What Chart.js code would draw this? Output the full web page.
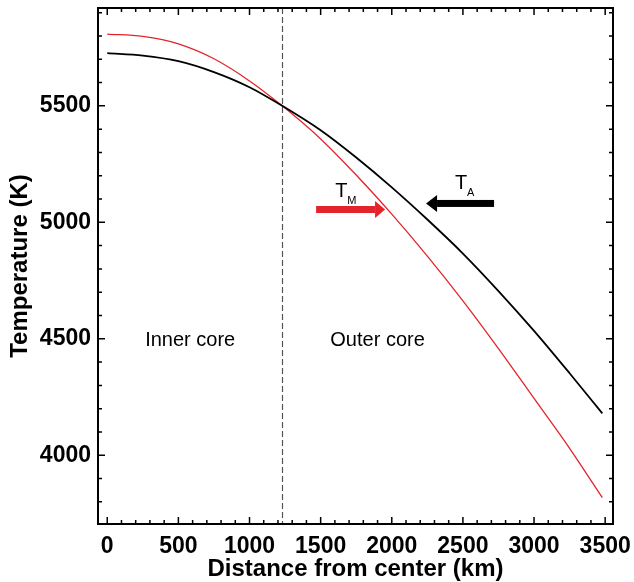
<!DOCTYPE html>
<html>
<head>
<meta charset="utf-8">
<script src="https://cdn.jsdelivr.net/npm/chart.js@4.4.1/dist/chart.umd.min.js"></script>
<style>
  html, body { margin: 0; padding: 0; background: #fff; }
</style>
</head>
<body>
<canvas id="myChart" width="634" height="582"></canvas>
<script>
// Distance from center (km)
const distances = [0, 250, 500, 750, 1000, 1230, 1500, 1750, 2000, 2250, 2500, 2750, 3000, 3250, 3480];
// T_A (black curve)
const adiabat = [5726, 5716, 5692, 5645, 5580, 5500, 5395, 5278, 5150, 5012, 4866, 4705, 4534, 4352, 4180];
// T_M (red curve)
const melting = [5808, 5798, 5766, 5702, 5607, 5500, 5358, 5203, 5035, 4855, 4663, 4458, 4244, 4030, 3818];
const xTickLabels = [0, 500, 1000, 1500, 2000, 2500, 3000, 3500];
const yTickLabels = [4000, 4500, 5000, 5500];
const boundary = 1230;

const FONT = "'Liberation Sans', Arial, sans-serif";
const RED = '#e3242b';

// ticks hacia dentro, marco y anotaciones
const decorations = {
    id: 'decorations',
    beforeDatasetsDraw(chart) {
        const ctx = chart.ctx;
        const a = chart.chartArea;
        const xs = chart.scales.x;
        ctx.save();
        ctx.strokeStyle = '#555';
        ctx.lineWidth = 1.2;
        ctx.setLineDash([6, 3]);
        const bx = Math.round(xs.getPixelForValue(boundary)) + 0.5;
        ctx.beginPath();
        ctx.moveTo(bx, a.top);
        ctx.lineTo(bx, a.bottom);
        ctx.stroke();
        ctx.restore();
    },
    afterDatasetsDraw(chart) {
        const ctx = chart.ctx;
        const a = chart.chartArea;
        const xs = chart.scales.x;
        const ys = chart.scales.y;
        ctx.save();
        ctx.strokeStyle = '#000';
        ctx.lineWidth = 1.5;
        ctx.beginPath();
        for (let v = 0; v <= 3500; v += 100) {
            const p = xs.getPixelForValue(v);
            const len = v % 500 === 0 ? 7 : 4;
            ctx.moveTo(p, a.bottom);
            ctx.lineTo(p, a.bottom - len);
            ctx.moveTo(p, a.top);
            ctx.lineTo(p, a.top + len);
        }
        for (let v = 3800; v <= 5900; v += 100) {
            const p = ys.getPixelForValue(v);
            const len = v % 500 === 0 ? 7 : 4;
            ctx.moveTo(a.left, p);
            ctx.lineTo(a.left + len, p);
            ctx.moveTo(a.right, p);
            ctx.lineTo(a.right - len, p);
        }
        ctx.stroke();
        ctx.lineWidth = 2;
        ctx.strokeRect(a.left, a.top, a.right - a.left, a.bottom - a.top);

        // flechas
        function arrow(x0, x1, yv, color, shaftH, headH, headL) {
            const px0 = xs.getPixelForValue(x0);
            const px1 = xs.getPixelForValue(x1);
            const py = ys.getPixelForValue(yv);
            const dir = px1 > px0 ? 1 : -1;
            const base = px1 - dir * headL;
            ctx.fillStyle = color;
            ctx.fillRect(Math.min(px0, base), py - shaftH / 2, Math.abs(base - px0), shaftH);
            ctx.beginPath();
            ctx.moveTo(px1, py);
            ctx.lineTo(base, py - headH / 2);
            ctx.lineTo(base, py + headH / 2);
            ctx.closePath();
            ctx.fill();
        }
        arrow(1468, 1953, 5055, RED, 7, 17, 10);
        arrow(2719, 2241, 5081, '#000', 7, 17, 11);

        // etiquetas
        ctx.fillStyle = '#000';
        ctx.textBaseline = 'alphabetic';
        ctx.textAlign = 'left';
        function sub(xv, yv, main, small) {
            const px = xs.getPixelForValue(xv);
            const py = ys.getPixelForValue(yv);
            ctx.font = '20px ' + FONT;
            ctx.fillText(main, px, py);
            ctx.font = '11px ' + FONT;
            ctx.fillText(small, px + 12, py + 7);
        }
        sub(1602, 5109, 'T', 'M');
        sub(2445, 5142, 'T', 'A');

        ctx.textAlign = 'center';
        ctx.textBaseline = 'middle';
        ctx.font = '20px ' + FONT;
        ctx.fillText('Inner core', xs.getPixelForValue(583), ys.getPixelForValue(4491));
        ctx.fillText('Outer core', xs.getPixelForValue(1900), ys.getPixelForValue(4491));
        ctx.restore();
    }
};

function noPad(s) {
    s.paddingTop = 0;
    s.paddingBottom = 0;
    s.paddingLeft = 0;
    s.paddingRight = 0;
}

const config = {
    type: 'line',
    data: {
        datasets: [{
            label: 'T_A',
            data: distances.map((d, i) => ({ x: d, y: adiabat[i] })),
            borderColor: '#000',
            borderWidth: 1.8,
            pointRadius: 0,
            cubicInterpolationMode: 'monotone',
            fill: false
        }, {
            label: 'T_M',
            data: distances.map((d, i) => ({ x: d, y: melting[i] })),
            borderColor: RED,
            borderWidth: 1.3,
            pointRadius: 0,
            cubicInterpolationMode: 'monotone',
            fill: false
        }]
    },
    options: {
        responsive: false,
        animation: false,
        devicePixelRatio: 1,
        layout: { padding: { top: 8, right: 21, left: 0, bottom: 0 } },
        plugins: { legend: { display: false }, tooltip: { enabled: false } },
        scales: {
            x: {
                type: 'linear',
                min: -65,
                max: 3555,
                afterFit: s => { s.height = 58; noPad(s); },
                afterBuildTicks: s => { s.ticks = xTickLabels.map(v => ({ value: v })); },
                grid: { display: false, drawTicks: false },
                border: { display: false },
                ticks: {
                    autoSkip: false,
                    maxRotation: 0,
                    padding: 9,
                    color: '#000',
                    callback: v => String(v),
                    font: { family: FONT, size: 23, weight: 'bold' }
                },
                title: {
                    display: true,
                    text: 'Distance from center (km)',
                    color: '#000',
                    font: { family: FONT, size: 24, weight: 'bold' },
                    padding: { top: 0, bottom: -2 }
                }
            },
            y: {
                type: 'linear',
                min: 3705,
                max: 5920,
                afterFit: s => { s.width = 98; noPad(s); },
                afterBuildTicks: s => { s.ticks = yTickLabels.map(v => ({ value: v })); },
                grid: { display: false, drawTicks: false },
                border: { display: false },
                ticks: {
                    padding: 7,
                    color: '#000',
                    callback: v => String(v),
                    font: { family: FONT, size: 23, weight: 'bold' }
                },
                title: {
                    display: true,
                    text: 'Temperature (K)',
                    color: '#000',
                    font: { family: FONT, size: 24, weight: 'bold' },
                    padding: { top: 6, bottom: 0 }
                }
            }
        }
    },
    plugins: [decorations]
};

var myChart = new Chart(document.getElementById('myChart'), config);
</script>
</body>
</html>
